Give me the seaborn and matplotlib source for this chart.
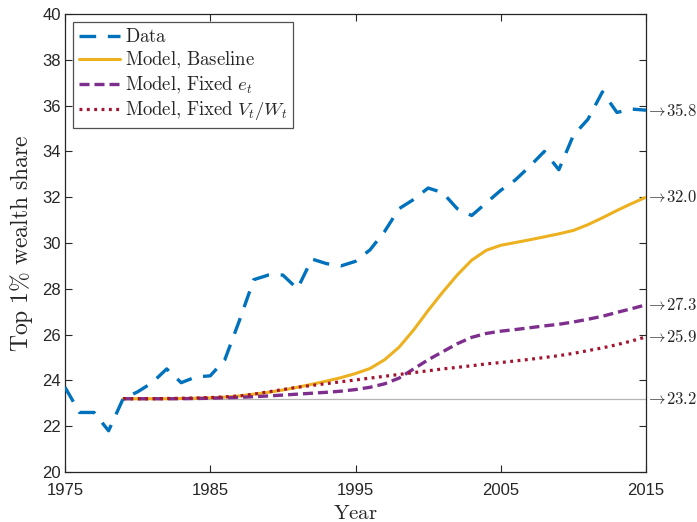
import numpy as np
import pandas as pd
import matplotlib
matplotlib.use("Agg")
import matplotlib.pyplot as plt
import matplotlib.transforms as mtransforms
import seaborn as sns

# Observed top 1% wealth share, 1975-2015
data_years = list(range(1975, 2016))
data_share = [23.7, 22.6, 22.6, 21.8, 23.2, 23.5, 23.9, 24.5, 23.9, 24.15,
              24.2, 24.9, 26.6, 28.4, 28.6, 28.6, 28.0, 29.3, 29.1, 29.0,
              29.2, 29.7, 30.5, 31.5, 31.9, 32.4, 32.2, 31.5, 31.2, 31.75,
              32.3, 32.75, 33.35, 34.0, 33.2, 34.7, 35.4, 36.6, 35.7, 35.85,
              35.8]

# Model simulations, 1979-2015
model_years = list(range(1979, 2016))
model_baseline = [23.2, 23.2, 23.2, 23.2, 23.21, 23.22, 23.24, 23.27, 23.32, 23.4,
                  23.48, 23.58, 23.7, 23.83, 23.97, 24.12, 24.3, 24.52, 24.9, 25.45,
                  26.2, 27.05, 27.85, 28.6, 29.25, 29.68, 29.9, 30.02, 30.14, 30.27,
                  30.4, 30.55, 30.8, 31.1, 31.42, 31.72, 32.0]
model_fixed_e = [23.2, 23.2, 23.2, 23.2, 23.2, 23.21, 23.22, 23.24, 23.26, 23.29,
                 23.32, 23.36, 23.4, 23.44, 23.48, 23.53, 23.6, 23.7, 23.85, 24.1,
                 24.5, 24.9, 25.25, 25.6, 25.88, 26.05, 26.15, 26.22, 26.3, 26.38,
                 26.45, 26.55, 26.67, 26.8, 26.97, 27.13, 27.3]
model_fixed_vw = [23.2, 23.2, 23.2, 23.21, 23.22, 23.23, 23.25, 23.28, 23.32, 23.4,
                  23.5, 23.6, 23.7, 23.78, 23.86, 23.94, 24.02, 24.1, 24.18, 24.26,
                  24.34, 24.42, 24.5, 24.57, 24.64, 24.72, 24.78, 24.85, 24.92, 25.0,
                  25.08, 25.18, 25.3, 25.42, 25.56, 25.72, 25.9]
start_level = 23.2

x_ticks = [1975, 1985, 1995, 2005, 2015]
y_ticks = list(range(20, 41, 2))

sns.set_style("ticks")
plt.rcParams["font.family"] = ["Liberation Sans", "DejaVu Sans"]
plt.rcParams["mathtext.fontset"] = "cm"

fig = plt.figure(figsize=(6.97, 5.22), dpi=100)
ax = fig.add_axes([65 / 697, 50 / 522, 581 / 697, 458 / 522])

df_data = pd.DataFrame({"year": data_years, "share": data_share})
df_model = pd.DataFrame({"year": model_years, "base": model_baseline,
                         "fe": model_fixed_e, "fvw": model_fixed_vw})

ax.hlines(start_level, model_years[0], model_years[-1], color="#b4b4b4",
          lw=0.9, zorder=1)

series = [
    (df_data, "share", "#0072BD", 2.4, r"$\mathrm{Data}$", 5, (5, 3.5)),
    (df_model, "base", "#EDB120", 2.2, r"$\mathrm{Model{,}\ Baseline}$", 3, None),
    (df_model, "fe", "#7E2F8E", 2.4, r"$\mathrm{Model{,}\ Fixed}\ e_t$", 4, (3, 1.5)),
    (df_model, "fvw", "#A2142F", 2.3, r"$\mathrm{Model{,}\ Fixed}\ V_t/W_t$", 4, (0.9, 1.4)),
]
for frame, col, color, lw, label, z, dash in series:
    n_before = len(ax.get_lines())
    sns.lineplot(data=frame, x="year", y=col, ax=ax, color=color, lw=lw,
                 label=label, zorder=z)
    line = ax.get_lines()[n_before]
    if dash is not None:
        line.set_dashes(dash)

ax.set_xlim(1975, 2015)
ax.set_ylim(20, 40)
ax.set_xticks(x_ticks)
ax.set_yticks(y_ticks)
ax.tick_params(direction="in", top=True, right=True, length=5, width=0.8,
               labelsize=12, colors="#262626")
ax.tick_params(axis="x", pad=8)
ax.tick_params(axis="y", pad=3)
for s in ax.spines.values():
    s.set_visible(True)
    s.set_color("#262626")
    s.set_linewidth(0.9)

ax.set_xlabel(r"$\mathrm{Year}$", fontsize=15, labelpad=4)
ax.set_ylabel(r"$\mathrm{Top\ 1\%\ wealth\ share}$", fontsize=17, labelpad=5)

leg = ax.legend(loc="upper left", fontsize=13.5, handlelength=2.2,
                frameon=True, fancybox=False, edgecolor="#262626",
                borderaxespad=0.45, labelspacing=0.2, handletextpad=0.25,
                borderpad=0.3)
leg.get_frame().set_linewidth(0.9)

# End-of-sample values written just outside the right axis
trans = mtransforms.blended_transform_factory(ax.transAxes, ax.transData)
end_values = [data_share[-1], model_baseline[-1], model_fixed_e[-1],
              model_fixed_vw[-1], start_level]
for v in end_values:
    ax.text(1.0, v, r"$\rightarrow\!%.1f$" % v, transform=trans,
            ha="left", va="center", fontsize=12, color="#262626", clip_on=False)

fig.savefig("out.png", dpi=100)
